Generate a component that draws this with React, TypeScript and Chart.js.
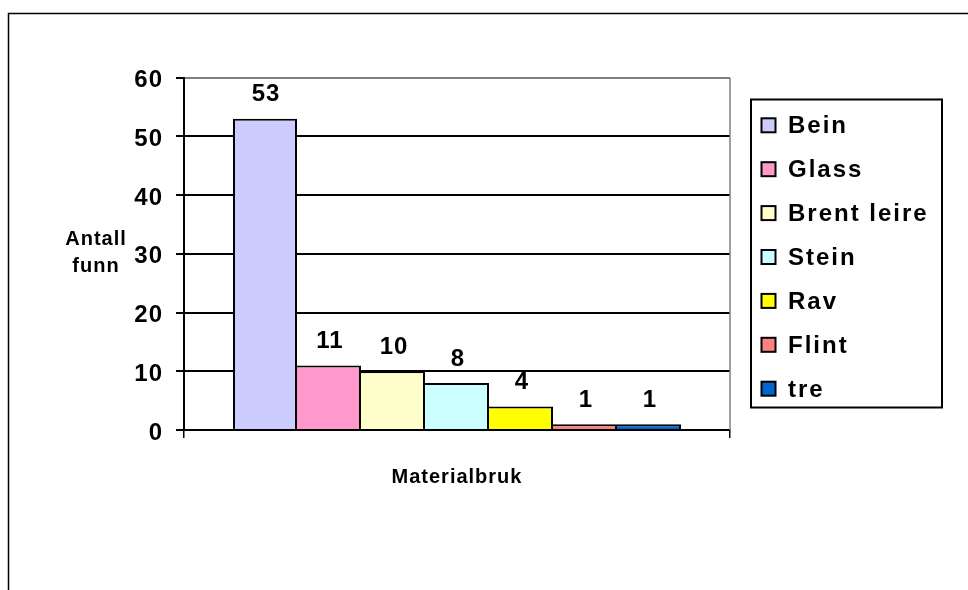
import React, { useEffect, useRef } from 'react';
import { Chart, registerables } from 'chart.js';

Chart.register(...registerables);

const categories = ['Materialbruk'];
const seriesNames = ['Bein', 'Glass', 'Brent leire', 'Stein', 'Rav', 'Flint', 'tre'];
const seriesValues = [53, 11, 10, 8, 4, 1, 1];
const seriesColors = ['#CCCCFF', '#FF99CC', '#FFFFCC', '#CCFFFF', '#FFFF00', '#FF8080', '#0066CC'];
const yMin = 0;
const yMax = 60;
const yStep = 10;
const yTitleLines = ['Antall', 'funn'];

const FONT = "'Liberation Sans', Arial, sans-serif";

const decorPlugin = {
  id: 'decor',
  beforeDraw(chart: any) {
    const ctx = chart.ctx;
    ctx.save();
    ctx.fillStyle = '#ffffff';
    ctx.fillRect(0, 0, chart.width, chart.height);
    ctx.strokeStyle = '#000000';
    ctx.lineWidth = 1.5;
    ctx.beginPath();
    ctx.moveTo(8.5, chart.height);
    ctx.lineTo(8.5, 13.5);
    ctx.lineTo(chart.width, 13.5);
    ctx.stroke();
    ctx.restore();
    ctx.letterSpacing = '1px';
  },
  afterDatasetsDraw(chart: any) {
    const ctx = chart.ctx;
    ctx.save();
    ctx.letterSpacing = '1px';
    ctx.font = `bold 24px ${FONT}`;
    ctx.fillStyle = '#000';
    ctx.textAlign = 'center';
    ctx.textBaseline = 'middle';
    chart.data.datasets.forEach((ds: any, i: number) => {
      const meta = chart.getDatasetMeta(i);
      meta.data.forEach((bar: any, j: number) => {
        ctx.fillText(String(ds.data[j]), bar.x + 1, bar.y - 24);
      });
    });
    ctx.restore();
  },
  afterDraw(chart: any) {
    const ctx = chart.ctx;
    const area = chart.chartArea;
    ctx.save();
    // right plot border (gray)
    ctx.strokeStyle = '#808080';
    ctx.lineWidth = 1.5;
    ctx.beginPath();
    ctx.moveTo(area.right, area.top);
    ctx.lineTo(area.right, area.bottom);
    ctx.stroke();

    // y title (horizontal, two lines)
    ctx.fillStyle = '#000';
    ctx.font = `bold 20px ${FONT}`;
    ctx.letterSpacing = '1px';
    ctx.textAlign = 'center';
    ctx.textBaseline = 'alphabetic';
    yTitleLines.forEach((t, i) => {
      ctx.fillText(t, 96, 245 + i * 26.7);
    });

    // legend
    const lx = 751, ly = 99.5, lw = 191, lh = 308;
    ctx.strokeStyle = '#000';
    ctx.lineWidth = 2;
    ctx.strokeRect(lx, ly, lw, lh);
    ctx.font = `bold 24px ${FONT}`;
    ctx.letterSpacing = '2px';
    ctx.textAlign = 'left';
    chart.data.datasets.forEach((ds: any, i: number) => {
      const base = 133.3 + i * 43.9;
      ctx.fillStyle = ds.backgroundColor;
      ctx.fillRect(761.5, base - 15, 14, 14);
      ctx.strokeStyle = '#000';
      ctx.lineWidth = 2;
      ctx.strokeRect(761.5, base - 15, 14, 14);
      ctx.fillStyle = '#000';
      ctx.fillText(ds.label, 788, base);
    });
    ctx.restore();
  },
};

export default function App() {
  const ref = useRef<HTMLCanvasElement | null>(null);

  useEffect(() => {
    if (!ref.current) return;
    Chart.defaults.font.family = FONT;
    const chart = new Chart(ref.current, {
      type: 'bar',
      data: {
        labels: categories,
        datasets: seriesNames.map((name, i) => ({
          label: name,
          data: [seriesValues[i]],
          backgroundColor: seriesColors[i],
          borderColor: '#000000',
          borderWidth: {
            left: i === 0 || seriesValues[i] > seriesValues[i - 1] ? 2 : 0,
            top: 2,
            right: 2,
            bottom: 0,
          },
          borderSkipped: false,
          inflateAmount: 0,
          categoryPercentage: 448 / 546,
          barPercentage: 1,
        })),
      },
      options: {
        animation: false,
        responsive: false,
        maintainAspectRatio: false,
        layout: { padding: { left: 0, top: 77.7, right: 238, bottom: 100 } },
        plugins: {
          legend: { display: false },
          tooltip: { enabled: false },
          title: { display: false },
        },
        scales: {
          x: {
            type: 'category',
            offset: true,
            grid: {
              offset: true,
              drawOnChartArea: false,
              drawTicks: true,
              tickLength: 8,
              color: '#000',
              lineWidth: 1.5,
            },
            border: { display: true, color: '#000', width: 2 },
            ticks: {
              color: '#000',
              font: { size: 20, weight: 'bold' },
              padding: 27,
              maxRotation: 0,
            },
            afterFit: (s: any) => {
              s.height = 60;
            },
          },
          y: {
            min: yMin,
            max: yMax,
            ticks: {
              stepSize: yStep,
              color: '#000',
              font: { size: 24, weight: 'bold' },
              padding: 13,
              labelOffset: 3,
            },
            grid: {
              color: (c: any) => (c.tick && c.tick.value === yMax ? '#808080' : '#000000'),
              tickColor: '#000000',
              lineWidth: 2,
              tickLength: 8,
            },
            border: { display: true, color: '#000', width: 2 },
            afterFit: (s: any) => {
              s.width = 184;
            },
          },
        },
      },
      plugins: [decorPlugin],
    } as any);
    return () => chart.destroy();
  }, []);

  return (
    <div style={{ position: 'fixed', left: 0, top: 0, width: 968, height: 590, background: '#fff' }}>
      <canvas ref={ref} width={968} height={590} style={{ width: 968, height: 590, display: 'block' }} />
    </div>
  );
}
